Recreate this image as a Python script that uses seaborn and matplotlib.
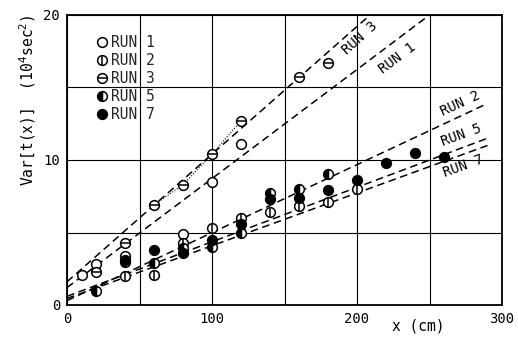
import matplotlib
matplotlib.use("Agg")
import matplotlib.pyplot as plt
import seaborn as sns
from matplotlib.lines import Line2D
from matplotlib.legend_handler import HandlerTuple
from matplotlib.ticker import MultipleLocator

# ---- data ----
run1_x = [10, 20, 40, 80, 100, 120]
run1_y = [2.1, 2.8, 3.4, 4.9, 8.5, 11.1]

run2_x = [40, 60, 80, 100, 120, 140, 160, 180, 200]
run2_y = [2.0, 2.1, 4.3, 5.3, 6.0, 6.4, 6.8, 7.1, 8.0]

run3_x = [20, 40, 60, 80, 100, 120, 160, 180]
run3_y = [2.3, 4.3, 6.9, 8.3, 10.4, 12.7, 15.7, 16.7]

run5_x = [20, 40, 60, 80, 100, 120, 140, 160, 180]
run5_y = [1.0, 3.0, 2.9, 3.9, 4.0, 5.0, 7.7, 8.0, 9.0]

run7_x = [40, 60, 80, 100, 120, 140, 160, 180, 200, 220, 240, 260]
run7_y = [3.1, 3.8, 3.6, 4.5, 5.6, 7.3, 7.4, 7.9, 8.6, 9.8, 10.5, 10.2]

# fitted lines (end points)
fit1_x = [0, 250]
fit1_y = [1.2, 20.0]
fit3_x = [0, 209]
fit3_y = [1.6, 20.0]
fit2_x = [0, 290]
fit2_y = [0.3, 13.9]
fit5_x = [0, 290]
fit5_y = [0.6, 11.5]
fit7_x = [0, 290]
fit7_y = [0.45, 11.0]

legend_labels = ["RUN 1", "RUN 2", "RUN 3", "RUN 5", "RUN 7"]
x_ticks = [0, 100, 200, 300]
y_ticks = [0, 10, 20]

# ---- style ----
sns.set_style("white")
plt.rcParams["font.family"] = ["DejaVu Sans Mono", "DejaVu Sans"]
plt.rcParams["mathtext.fontset"] = "dejavusans"

fig = plt.figure(figsize=(5.18, 3.38), dpi=100)
ax = fig.add_axes([67 / 518, 1 - 305 / 338, (502 - 67) / 518, (305 - 15) / 338])

LW_FIT = 1.1
DASH = (5, 3)
for fx, fy in [(fit1_x, fit1_y), (fit3_x, fit3_y), (fit2_x, fit2_y),
               (fit5_x, fit5_y), (fit7_x, fit7_y)]:
    sns.lineplot(x=fx, y=fy, ax=ax, color="black", lw=LW_FIT,
                 linestyle=(0, DASH), estimator=None, sort=False,
                 legend=False)

# dotted connection for RUN 3 points (as in reference)
sns.lineplot(x=run3_x[2:6], y=run3_y[2:6], ax=ax, color="black", lw=0.8,
             linestyle=(0, (1, 1.5)), estimator=None, sort=False, legend=False)

MS = 7
MEW = 1.1
common = dict(ax=ax, estimator=None, sort=False, legend=False,
              linestyle="", color="black", markersize=MS, markeredgewidth=MEW)

# RUN 1: open circles
sns.lineplot(x=run1_x, y=run1_y, marker="o", markerfacecolor="white",
             markeredgecolor="black", **common)
# RUN 2: circle with vertical bar
sns.lineplot(x=run2_x, y=run2_y, marker="o", markerfacecolor="white",
             markeredgecolor="black", **common)
sns.lineplot(x=run2_x, y=run2_y, marker="|", markeredgecolor="black",
             ax=ax, estimator=None, sort=False, legend=False, linestyle="",
             markersize=MS, markeredgewidth=MEW)
# RUN 3: circle with horizontal bar
sns.lineplot(x=run3_x, y=run3_y, marker="o", markerfacecolor="white",
             markeredgecolor="black", **common)
sns.lineplot(x=run3_x, y=run3_y, marker="_", markeredgecolor="black",
             ax=ax, estimator=None, sort=False, legend=False, linestyle="",
             markersize=MS, markeredgewidth=MEW)
# RUN 5: left-half filled
sns.lineplot(x=run5_x, y=run5_y, marker="o", fillstyle="left",
             markerfacecolor="black", markerfacecoloralt="white",
             markeredgecolor="black", **common)
# RUN 7: filled
sns.lineplot(x=run7_x, y=run7_y, marker="o", markerfacecolor="black",
             markeredgecolor="black", **common)

# ---- axes ----
ax.set_xlim(0, 300)
ax.set_ylim(0, 20)
ax.set_xticks(x_ticks)
ax.set_yticks(y_ticks)
ax.set_xticklabels([str(v) for v in x_ticks])
ax.set_yticklabels([str(v) for v in y_ticks])
ax.xaxis.set_minor_locator(MultipleLocator(50))
ax.yaxis.set_minor_locator(MultipleLocator(5))
ax.grid(which="both", color="black", lw=0.8)
ax.set_axisbelow(True)
ax.tick_params(axis="both", which="major", labelsize=10, length=3,
               direction="out", color="black", labelcolor="black", pad=2)
ax.tick_params(axis="both", which="minor", length=0)
for s in ax.spines.values():
    s.set_visible(True)
    s.set_color("black")
    s.set_linewidth(1.3)
ax.set_xlabel("")
ax.set_ylabel("")

fig.text(28 / 518, 1 - 100 / 338, r"Var[t(x)]  (10$^{4}$sec$^{2}$)",
         rotation=90, ha="center", va="center", fontsize=10.5, color="black")
fig.text(418 / 518, 1 - 326 / 338, "x (cm)", ha="center", va="center",
         fontsize=10.5, color="black")

# ---- line labels ----
lab_kw = dict(ha="center", va="center", fontsize=10, color="black",
              rotation_mode="anchor")
ax.text(202, 18.4, "RUN 3", rotation=42, **lab_kw)
ax.text(228, 17.0, "RUN 1", rotation=37, **lab_kw)
ax.text(271, 13.9, "RUN 2", rotation=25, **lab_kw)
ax.text(272, 11.7, "RUN 5", rotation=20, **lab_kw)
ax.text(273, 9.6, "RUN 7", rotation=20, **lab_kw)

# ---- legend ----
def circ(**kw):
    base = dict(marker="o", linestyle="", color="black", markersize=MS,
                markeredgewidth=MEW, markeredgecolor="black")
    base.update(kw)
    return Line2D([], [], **base)

h1 = circ(markerfacecolor="white")
h2 = (circ(markerfacecolor="white"), circ(marker="|"))
h3 = (circ(markerfacecolor="white"), circ(marker="_"))
h5 = circ(fillstyle="left", markerfacecolor="black", markerfacecoloralt="white")
h7 = circ(markerfacecolor="black")
ax.legend([h1, h2, h3, h5, h7], legend_labels,
          handler_map={tuple: HandlerTuple(ndivide=1, pad=0)},
          loc="upper left", bbox_to_anchor=(0.05, 0.955), frameon=False,
          fontsize=10.5, handlelength=0.8, handletextpad=0.25,
          labelspacing=0.2, borderpad=0)

fig.savefig("out.png", dpi=100, facecolor="white")
